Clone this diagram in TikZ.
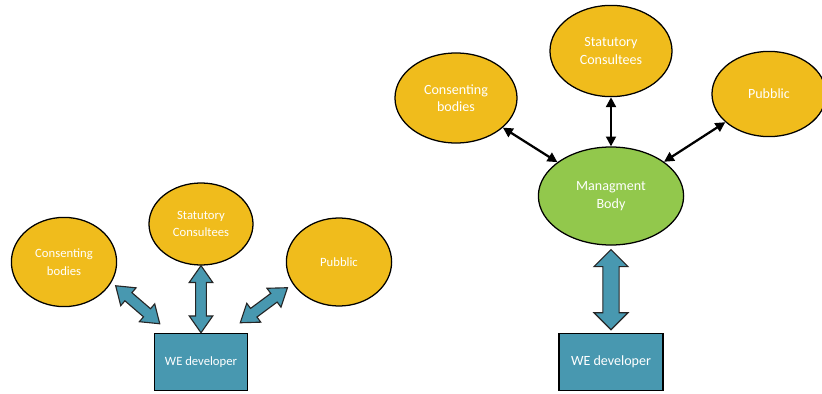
\documentclass[tikz,border=0pt]{standalone}
\usepackage{fontspec}
\setmainfont{Carlito}
\usetikzlibrary{arrows.meta,positioning,calc,shapes.geometric,shapes.arrows}

\definecolor{bodyyellow}{RGB}{240,188,28}
\definecolor{bodygreen}{RGB}{146,200,76}
\definecolor{devteal}{RGB}{72,152,176}

% fat two-headed arrow laid between two points
\newcommand{\blockarrow}[3][]{%
  \path let \p1=(#2), \p2=(#3),
    \n1={atan2(\y2-\y1,\x2-\x1)}, \n2={veclen(\x2-\x1,\y2-\y1)} in
    node[blockarr,#1,rotate=\n1,minimum height=\n2] at ($(\p1)!0.5!(\p2)$) {};}

\begin{document}
\begin{tikzpicture}[
  x=0.025cm, y=-0.025cm,
  party/.style={ellipse, draw=black, line width=0.9pt, fill=bodyyellow, text=white,
    align=center, inner sep=0pt},
  mgmt/.style={party, fill=bodygreen},
  devbox/.style={rectangle, draw=black, line width=0.9pt, fill=devteal, text=white, align=center},
  smalltxt/.style={font=\fontsize{9}{12.5}\selectfont},
  bigtxt/.style={font=\fontsize{10}{12.5}\selectfont},
  blockarr/.style={double arrow, draw=black!85, line width=0.8pt, fill=devteal,
    inner xsep=0pt, inner ysep=0.12cm, double arrow head extend=0.16cm,
    double arrow tip angle=70},
  bigarr/.style={inner ysep=0.19cm, double arrow head extend=0.22cm, double arrow tip angle=90},
  arr/.style={{Triangle[length=7pt,width=7pt]}-{Triangle[length=7pt,width=7pt]}, line width=1.6pt}
]
  \clip (0,0) rectangle (822,394);

  % developer talks to everyone
  \node[party, smalltxt, minimum width=2.63cm, minimum height=2.23cm] (cbL) at (64,262) {Consenting\\bodies};
  \node[party, smalltxt, minimum width=2.6cm, minimum height=2.05cm] (scL) at (201,224) {Statutory\\Consultees};
  \node[party, smalltxt, minimum width=2.63cm, minimum height=2.2cm] (pbL) at (339,262) {Pubblic};
  \node[devbox, smalltxt, minimum width=2.33cm, minimum height=1.43cm] (devL) at (201,362) {WE developer};

  \blockarrow{$(cbL.-25)+(5,2)$}{$(devL.north west)+(6,-9)$}
  \blockarrow{scL.south}{devL.north}
  \blockarrow{$(pbL.-155)+(-5,4)$}{$(devL.north east)+(-8,-10)$}

  % management body in the middle
  \node[party, bigtxt, minimum width=3.05cm, minimum height=2.25cm] (cbR) at (456,98) {Consenting\\bodies};
  \node[party, bigtxt, minimum width=3.05cm, minimum height=2.28cm] (scR) at (611,51) {Statutory\\Consultees};
  \node[party, bigtxt, minimum width=2.85cm, minimum height=2.13cm] (pbR) at (769,94) {Pubblic};
  \node[mgmt, bigtxt, minimum width=3.63cm, minimum height=2.45cm] (mb) at (611,196) {Managment\\Body};
  \node[devbox, bigtxt, minimum width=2.6cm, minimum height=1.43cm] (devR) at (611,362) {WE developer};

  \foreach \a in {cbR,scR,pbR} \draw[arr] (\a) -- (mb);
  \blockarrow[bigarr]{$(mb.south)+(0,4)$}{$(devR.north)+(0,-3)$}
\end{tikzpicture}
\end{document}
